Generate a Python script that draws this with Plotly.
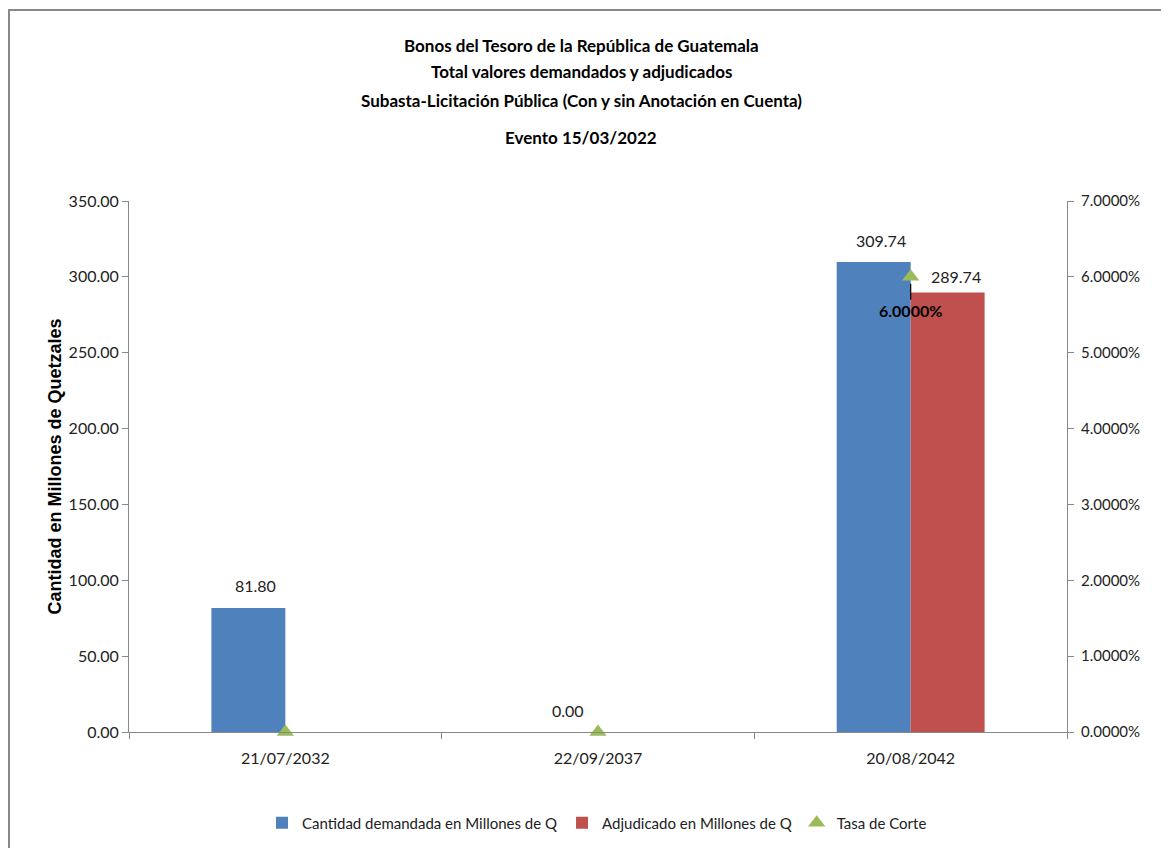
import plotly.graph_objects as go

categories = ["21/07/2032", "22/09/2037", "20/08/2042"]
demandada = [81.80, 0.00, 309.74]
adjudicado = [None, None, 289.74]
tasa = [0.0, 0.0, 0.06]
tasa_labels = ["", "", "6.0000%"]

title_lines = [
    "Bonos del Tesoro de la República de Guatemala",
    "Total valores demandados y adjudicados",
    "Subasta-Licitación Pública (Con y sin Anotación en Cuenta)",
    "Evento 15/03/2022",
]

FONT = "Lato, sans-serif"
W, H = 1169, 848
# target on-screen plot area: x 129..1067, y 201..732 (page has 8px body offset)
OFF = 8
L, R, T = 129 - OFF, W - (1067 - OFF), 201 - OFF
PH = 732 - 201
B = H - T - PH
PW = W - L - R

fig = go.Figure()
fig.add_trace(go.Bar(
    x=categories, y=demandada, name="Cantidad demandada en Millones de Q",
    marker=dict(color="#4F81BD", line=dict(width=0)),
))
fig.add_trace(go.Bar(
    x=categories, y=adjudicado, name="Adjudicado en Millones de Q",
    marker=dict(color="#C0504D", line=dict(width=0)),
))
fig.add_trace(go.Scatter(
    x=categories, y=tasa, name="Tasa de Corte", yaxis="y2",
    mode="markers", marker=dict(symbol="triangle-up", size=15, color="#9BBB59"),
    cliponaxis=False,
))

# bar value labels
for cat, v in zip(categories, demandada):
    if v is not None:
        fig.add_annotation(x=cat, y=v, text=f"{v:.2f}", showarrow=False, xshift=-30,
                           yshift=22, font=dict(size=16, color="#222", family=FONT))
for cat, v in zip(categories, adjudicado):
    if v is not None:
        fig.add_annotation(x=cat, y=v, text=f"{v:.2f}", showarrow=False, xshift=45,
                           yshift=16, font=dict(size=16, color="#222", family=FONT))
for cat, v, lab in zip(categories, tasa, tasa_labels):
    if lab:
        fig.add_annotation(x=cat, y=v, yref="y2", text=f"<b>{lab}</b>", showarrow=True,
                           arrowhead=0, arrowwidth=1.2, arrowcolor="black", ax=0, ay=34,
                           standoff=7, font=dict(size=16, color="black", family=FONT))

tops = [45, 72, 100, 137]
for t, y in zip(title_lines, tops):
    fig.add_annotation(text=f"<b>{t}</b>", x=(581 - 129) / PW, xref="paper",
                       y=(732 - y) / PH, yref="paper", yanchor="middle",
                       showarrow=False, font=dict(size=17, color="black", family=FONT))

fig.update_layout(
    width=W, height=H,
    margin=dict(l=L, r=R, t=T, b=B),
    paper_bgcolor="white", plot_bgcolor="white",
    font=dict(family=FONT, size=15, color="#222"),
    barmode="group", bargap=0.527, bargroupgap=0,
    showlegend=True,
    legend=dict(orientation="h", x=(597 - 129) / PW, xanchor="center",
                y=-91 / PH, yanchor="middle", font=dict(size=15), traceorder="normal"),
    xaxis=dict(showline=True, linecolor="#888", linewidth=1, ticks="outside",
               tickson="boundaries", ticklen=6, tickcolor="#888", showgrid=False,
               ticklabelstandoff=12, tickfont=dict(size=16)),
    yaxis=dict(range=[0, 350], dtick=50, tickformat=".2f", showline=True,
               linecolor="#888", ticks="outside", ticklen=6, tickcolor="#888",
               showgrid=False, zeroline=False, tickfont=dict(size=16),
               title=dict(text="<b>Cantidad en Millones de Quetzales</b>",
                          font=dict(family="Liberation Sans, Arial, sans-serif", size=18, color="black"),
                          standoff=2)),
    yaxis2=dict(range=[0, 0.07], dtick=0.01, tickformat=".4%", overlaying="y", side="right",
                showline=True, linecolor="#888", ticks="outside", ticklen=6, tickcolor="#888",
                showgrid=False, zeroline=False, tickfont=dict(size=15), ticklabelstandoff=4),
    shapes=[dict(type="rect", xref="paper", yref="paper",
                 x0=(1 + OFF - 129) / PW, x1=(1190 - 129) / PW,
                 y0=(732 - 860) / PH, y1=(732 - 10) / PH,
                 line=dict(color="#888", width=2))],
)

fig.write_html("out.html")
